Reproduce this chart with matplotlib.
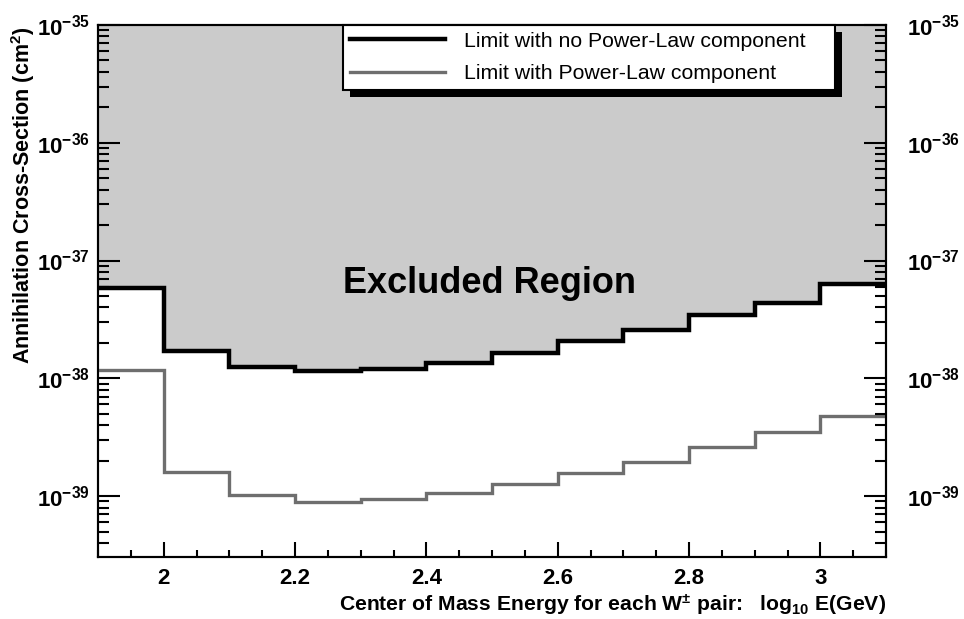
import numpy as np
import matplotlib
matplotlib.use("Agg")
import matplotlib.pyplot as plt
from matplotlib.ticker import FixedLocator, MultipleLocator, LogLocator, NullFormatter
from matplotlib.lines import Line2D
from matplotlib.patches import Rectangle
from matplotlib.transforms import IdentityTransform

# Bin edges in log10 E(GeV)
bin_edges = [1.9, 2.0, 2.1, 2.2, 2.3, 2.4, 2.5, 2.6, 2.7, 2.8, 2.9, 3.0, 3.1]

# Upper limits on the annihilation cross-section (cm^2) per bin
limit_no_powerlaw = [5.9e-38, 1.69e-38, 1.24e-38, 1.15e-38, 1.19e-38, 1.34e-38,
                     1.63e-38, 2.06e-38, 2.55e-38, 3.42e-38, 4.4e-38, 6.27e-38]
limit_powerlaw = [1.17e-38, 1.6e-39, 1.02e-39, 8.9e-40, 9.4e-40, 1.06e-39,
                  1.26e-39, 1.57e-39, 1.94e-39, 2.6e-39, 3.48e-39, 4.77e-39]

series_labels = ["Limit with no Power-Law component", "Limit with Power-Law component"]

x_ticks = [2.0, 2.2, 2.4, 2.6, 2.8, 3.0]
x_tick_labels = ["2", "2.2", "2.4", "2.6", "2.8", "3"]
y_ticks = [1e-39, 1e-38, 1e-37, 1e-36, 1e-35]
y_tick_labels = [r"$10^{-39}$", r"$10^{-38}$", r"$10^{-37}$", r"$10^{-36}$", r"$10^{-35}$"]

plt.rcParams["font.family"] = ["Liberation Sans", "DejaVu Sans"]
plt.rcParams["mathtext.fontset"] = "custom"
for key in ("rm", "bf", "it", "sf"):
    plt.rcParams["mathtext." + key] = "Liberation Sans:bold"
plt.rcParams["mathtext.default"] = "rm"

W, H = 964, 619
fig = plt.figure(figsize=(W / 100, H / 100), dpi=100)
ax = fig.add_axes([98 / W, 62 / H, 788 / W, 532 / H])
ax.set_yscale("log")
ax.set_xlim(1.9, 3.1)
ylim = (3.04e-40, 1e-35)
ax.set_ylim(*ylim)

fill_color = "#cbcbcb"
black_lw = 3.2
gray_color = "#6e6e6e"
gray_lw = 2.4

# Excluded region above the no-power-law limit
ax.stairs(limit_no_powerlaw, bin_edges, baseline=ylim[1], fill=True,
          color=fill_color, lw=0, zorder=1)
ax.stairs(limit_no_powerlaw, bin_edges, baseline=None, color="black",
          lw=black_lw, zorder=3)
ax.stairs(limit_powerlaw, bin_edges, baseline=None, color=gray_color,
          lw=gray_lw, zorder=3)

ax.text(0.497, 0.515, "Excluded Region", transform=ax.transAxes,
        ha="center", va="center", fontsize=26, fontweight="bold", zorder=4)

# Axis ticks
ax.xaxis.set_major_locator(FixedLocator(x_ticks))
ax.set_xticklabels(x_tick_labels, fontsize=16, fontweight="bold")
ax.xaxis.set_minor_locator(MultipleLocator(0.05))
ax.tick_params(axis="x", which="major", direction="in", length=11, width=1.5,
               pad=8, top=False)
ax.tick_params(axis="x", which="minor", direction="in", length=5, width=1.5,
               top=False)


def style_y(a, side):
    a.yaxis.set_major_locator(FixedLocator(y_ticks))
    a.set_yticklabels(y_tick_labels, fontsize=16)
    a.yaxis.set_minor_locator(LogLocator(base=10, subs=np.arange(2, 10), numticks=20))
    a.yaxis.set_minor_formatter(NullFormatter())
    left = side == "left"
    a.tick_params(axis="y", which="major", direction="in", length=16, width=1.5,
                  pad=6 if left else 15, left=left, right=not left,
                  labelleft=left, labelright=not left)
    a.tick_params(axis="y", which="minor", direction="in", length=8, width=1.5,
                  left=left, right=not left)


style_y(ax, "left")
ax2 = ax.twinx()
ax2.set_yscale("log")
ax2.set_ylim(*ylim)
style_y(ax2, "right")

for a in (ax, ax2):
    for s in a.spines.values():
        s.set_linewidth(1.5)

# Legend with a solid drop shadow
handles = [Line2D([], [], color="black", lw=black_lw),
           Line2D([], [], color=gray_color, lw=gray_lw)]
leg = ax.legend(handles, series_labels, loc="upper left",
                bbox_to_anchor=(0.311, 0.878, 0.624, 0.122), mode="expand",
                borderaxespad=0, fontsize=15.3, handlelength=4.5,
                handletextpad=0.85, borderpad=0.32, labelspacing=0.64,
                fancybox=False, framealpha=1, edgecolor="black")
leg.get_frame().set_linewidth(1.5)
leg.set_zorder(6)

fig.canvas.draw()
bb = leg.get_window_extent()
shadow = Rectangle((bb.x0 + 7, bb.y0 - 7), bb.width, bb.height,
                   transform=IdentityTransform(), facecolor="black",
                   edgecolor="none", zorder=5, clip_on=False)
ax.add_artist(shadow)

fig.text(886 / W, 1 - 605 / H,
         r"Center of Mass Energy for each W$^{\pm}$ pair:   log$_{10}$ E(GeV)",
         ha="right", va="center", fontsize=15.2, fontweight="bold")
fig.text(23 / W, 1 - 27 / H, r"Annihilation Cross-Section (cm$^{2}$)",
         rotation=90, ha="center", va="top", fontsize=15.5, fontweight="bold")

fig.savefig("out.png", dpi=100)
